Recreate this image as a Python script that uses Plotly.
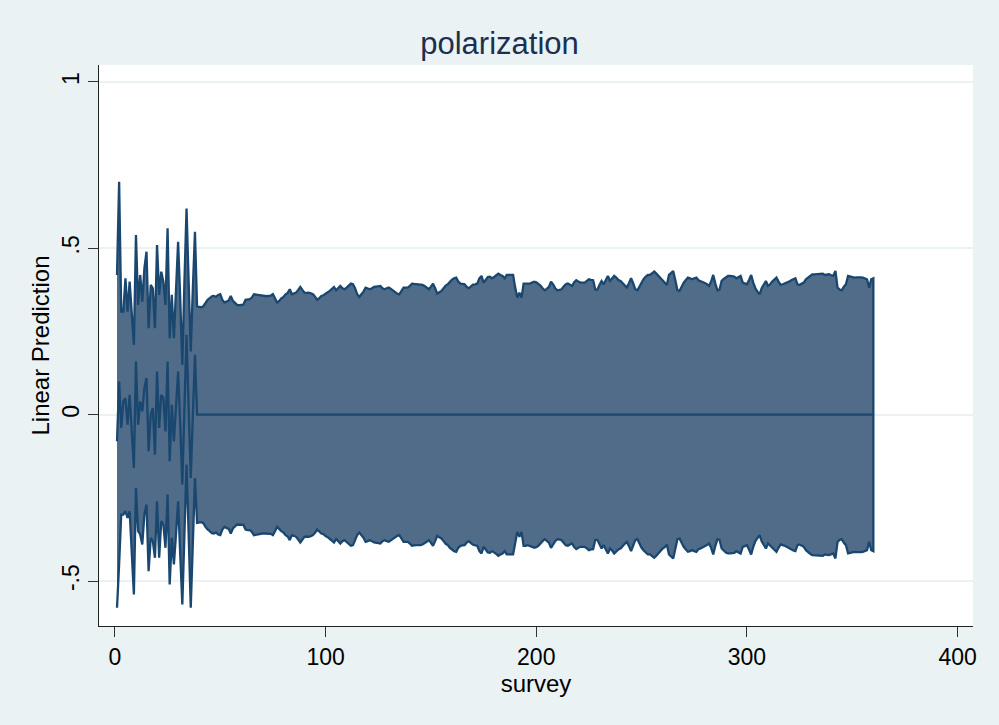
import plotly.graph_objects as go

# ---- data -------------------------------------------------------------
survey = list(range(1, 361))

# surveys 1..38: prediction with its own upper / lower bounds
pred_early = [-0.08, 0.10, -0.04, 0.04, 0.05, -0.03, 0.06, -0.05, -0.16, 0.16,
              -0.03, 0.04, 0.01, 0.08, 0.11, -0.11, 0.00, 0.02, -0.12, 0.13,
              -0.04, 0.06, 0.05, -0.05, 0.16, -0.14, 0.03, -0.08, 0.02, 0.13,
              -0.03, -0.21, 0.02, 0.24, 0.02, -0.19, 0.00, 0.18]
upper_early = [0.42, 0.70, 0.31, 0.31, 0.41, 0.31, 0.40, 0.30, 0.21, 0.54,
               0.33, 0.42, 0.34, 0.44, 0.49, 0.26, 0.39, 0.38, 0.26, 0.51,
               0.36, 0.43, 0.40, 0.33, 0.56, 0.23, 0.36, 0.23, 0.40, 0.52,
               0.35, 0.15, 0.40, 0.62, 0.40, 0.19, 0.38, 0.55]
lower_early = [-0.58, -0.45, -0.30, -0.30, -0.29, -0.31, -0.29, -0.40, -0.54, -0.22,
               -0.35, -0.36, -0.39, -0.30, -0.27, -0.47, -0.37, -0.38, -0.43, -0.26,
               -0.43, -0.32, -0.33, -0.40, -0.24, -0.51, -0.37, -0.45, -0.36, -0.26,
               -0.42, -0.57, -0.36, -0.15, -0.36, -0.58, -0.38, -0.19]

# surveys 39..360: prediction is 0, band is +/- halfwidth
pred_late = [0.0] * 322
halfwidth_late = [
    0.325, 0.324, 0.323, 0.326, 0.337, 0.345, 0.350, 0.356, 0.357, 0.354,
    0.360, 0.362, 0.345, 0.337, 0.340, 0.343, 0.357, 0.342, 0.336, 0.330,
    0.329, 0.330, 0.331, 0.345, 0.347, 0.347, 0.352, 0.362, 0.361, 0.360,
    0.358, 0.357, 0.357, 0.356, 0.357, 0.358, 0.362, 0.350, 0.337, 0.342,
    0.350, 0.354, 0.362, 0.366, 0.377, 0.362, 0.364, 0.367, 0.375, 0.384,
    0.375, 0.367, 0.366, 0.367, 0.365, 0.362, 0.355, 0.345, 0.350, 0.357,
    0.359, 0.365, 0.368, 0.372, 0.378, 0.384, 0.374, 0.380, 0.387, 0.380,
    0.377, 0.382, 0.388, 0.394, 0.392, 0.380, 0.362, 0.354, 0.362, 0.370,
    0.382, 0.380, 0.377, 0.380, 0.384, 0.385, 0.386, 0.387, 0.380, 0.377,
    0.380, 0.382, 0.378, 0.373, 0.368, 0.364, 0.362, 0.372, 0.382, 0.382,
    0.382, 0.387, 0.394, 0.393, 0.392, 0.391, 0.392, 0.390, 0.387, 0.382,
    0.377, 0.385, 0.394, 0.380, 0.364, 0.368, 0.372, 0.380, 0.388, 0.392,
    0.400, 0.406, 0.410, 0.412, 0.400, 0.394, 0.393, 0.392, 0.384, 0.380,
    0.386, 0.391, 0.392, 0.394, 0.410, 0.417, 0.397, 0.405, 0.414, 0.415,
    0.410, 0.414, 0.418, 0.424, 0.420, 0.417, 0.410, 0.420, 0.420, 0.420,
    0.420, 0.382, 0.352, 0.367, 0.352, 0.394, 0.394, 0.392, 0.394, 0.397,
    0.400, 0.398, 0.394, 0.388, 0.380, 0.374, 0.378, 0.384, 0.400, 0.392,
    0.380, 0.374, 0.375, 0.377, 0.385, 0.392, 0.394, 0.390, 0.387, 0.398,
    0.404, 0.400, 0.397, 0.397, 0.397, 0.402, 0.407, 0.405, 0.404, 0.376,
    0.376, 0.390, 0.402, 0.392, 0.405, 0.417, 0.402, 0.408, 0.417, 0.412,
    0.405, 0.402, 0.395, 0.388, 0.382, 0.395, 0.410, 0.395, 0.377, 0.374,
    0.385, 0.400, 0.408, 0.415, 0.420, 0.420, 0.425, 0.430, 0.424, 0.417,
    0.410, 0.402, 0.398, 0.390, 0.420, 0.426, 0.432, 0.404, 0.374, 0.372,
    0.385, 0.397, 0.405, 0.412, 0.410, 0.407, 0.410, 0.412, 0.404, 0.402,
    0.399, 0.396, 0.392, 0.387, 0.400, 0.420, 0.394, 0.374, 0.376, 0.402,
    0.408, 0.414, 0.417, 0.417, 0.417, 0.415, 0.410, 0.414, 0.417, 0.397,
    0.395, 0.392, 0.405, 0.420, 0.397, 0.380, 0.370, 0.362, 0.380, 0.390,
    0.402, 0.387, 0.392, 0.400, 0.406, 0.412, 0.400, 0.390, 0.392, 0.394,
    0.397, 0.400, 0.404, 0.408, 0.410, 0.392, 0.390, 0.394, 0.397, 0.407,
    0.412, 0.418, 0.422, 0.422, 0.422, 0.423, 0.424, 0.424, 0.420, 0.421,
    0.422, 0.419, 0.417, 0.432, 0.382, 0.376, 0.374, 0.385, 0.392, 0.417,
    0.415, 0.413, 0.412, 0.413, 0.414, 0.413, 0.412, 0.410, 0.407, 0.382,
    0.407, 0.410,
]

x_ticks = [0, 100, 200, 300, 400]
y_ticks = [-0.5, 0, 0.5, 1]
y_tick_labels = ["-.5", "0", ".5", "1"]

# ---- build series -----------------------------------------------------
prediction = pred_early + pred_late
upper = upper_early + halfwidth_late
lower = lower_early + [-w for w in halfwidth_late]

NAVY = "#1a476f"
FILL = "#506c89"
BG = "#eaf2f3"
FONT = "Liberation Sans, Arial, Helvetica, sans-serif"

fig = go.Figure()
fig.add_trace(go.Scatter(
    x=survey + survey[::-1],
    y=upper + lower[::-1],
    mode="lines",
    fill="toself",
    fillcolor=FILL,
    line=dict(color=NAVY, width=2.3),
    hoverinfo="skip",
    showlegend=False,
))
fig.add_trace(go.Scatter(
    x=survey, y=prediction, mode="lines",
    line=dict(color=NAVY, width=2.3),
    showlegend=False,
))

fig.update_layout(
    width=999, height=725,
    paper_bgcolor=BG, plot_bgcolor="white",
    margin=dict(l=99, r=26, t=65, b=99),
    font=dict(family=FONT, color="black", size=23),
    title=dict(text="polarization", x=0.5, xref="container", xanchor="center",
               y=0.941, yref="container", yanchor="middle",
               font=dict(size=31, color="#1c2f4f", family=FONT)),
    xaxis=dict(
        range=[-7.55, 407.3], tickvals=x_ticks,
        ticks="outside", ticklen=10, tickcolor="#333", tickwidth=1,
        showgrid=False, zeroline=False,
        showline=True, linecolor="#222", linewidth=1.2,
        title=dict(text="survey", font=dict(size=24), standoff=3),
        tickfont=dict(size=23),
    ),
    yaxis=dict(
        range=[-0.635, 1.051], tickvals=y_ticks, ticktext=y_tick_labels,
        tickangle=-90,
        ticks="outside", ticklen=10, tickcolor="#333", tickwidth=1,
        showgrid=True, gridcolor=BG, gridwidth=1.5,
        zeroline=False,
        showline=True, linecolor="#222", linewidth=1.2,
        title=dict(text="Linear Prediction", font=dict(size=24), standoff=1),
        tickfont=dict(size=23),
    ),
)

fig.write_html("out.html")
